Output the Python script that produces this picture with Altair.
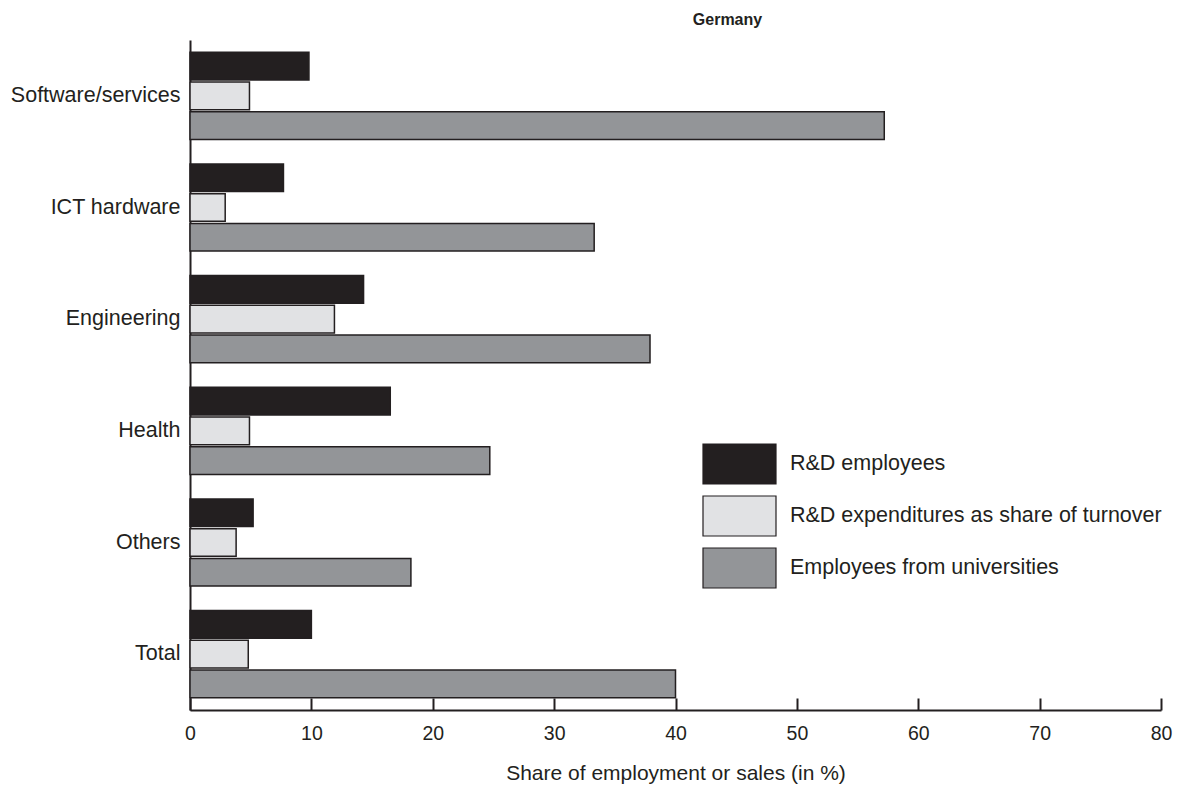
import altair as alt
import pandas as pd

categories = ["Software/services", "ICT hardware", "Engineering", "Health", "Others", "Total"]
series = ["R&D employees", "R&D expenditures as share of turnover", "Employees from universities"]
rd_employees = [9.8, 7.7, 14.3, 16.5, 5.2, 10.0]
rd_expenditures = [4.9, 2.9, 11.9, 4.9, 3.8, 4.8]
univ_employees = [57.2, 33.3, 37.9, 24.7, 18.2, 40.0]
colors = ["#231f20", "#e1e2e4", "#939598"]
x_ticks = [0, 10, 20, 30, 40, 50, 60, 70, 80]

rows = []
for i, c in enumerate(categories):
    for s, vals in zip(series, [rd_employees, rd_expenditures, univ_employees]):
        rows.append({"category": c, "series": s, "value": vals[i]})
df = pd.DataFrame(rows)

W, H = 971, 670
FONT = "Liberation Sans"
INK = "#231f20"

xscale = alt.Scale(domain=[0, 80], nice=False)
yscale = alt.Scale(paddingInner=0.22, paddingOuter=0.11)

bars = alt.Chart(df).mark_bar(stroke=INK, strokeWidth=1.5).encode(
    y=alt.Y("category:N", sort=categories, title=None, scale=yscale,
            axis=alt.Axis(ticks=False, labelFontSize=21.5, labelPadding=10, labelFont=FONT,
                          labelColor=INK, domainWidth=2, domainColor=INK, grid=False,
                          labelLimit=400)),
    yOffset=alt.YOffset("series:N", sort=series, scale=alt.Scale(paddingInner=0.07)),
    x=alt.X("value:Q", scale=xscale,
            axis=alt.Axis(values=x_ticks, ticks=False, grid=False, domainWidth=2, domainColor=INK,
                          labelFontSize=19.5, labelFont=FONT, labelColor=INK, labelPadding=14,
                          labelFlush=False,
                          title="Share of employment or sales (in %)", titleFontSize=21,
                          titleFont=FONT, titleFontWeight="normal", titleColor=INK, titlePadding=20)),
    color=alt.Color("series:N", sort=series, scale=alt.Scale(domain=series, range=colors),
                    legend=alt.Legend(title=None, orient="none", legendX=528.5, legendY=403,
                                      symbolType="M-1.825,-1H1.825V1H-1.825Z", symbolSize=1600,
                                      symbolStrokeColor=INK, symbolStrokeWidth=1.2,
                                      labelFontSize=21.5, labelFont=FONT, labelColor=INK,
                                      labelOffset=29.5, rowPadding=6, labelLimit=500)),
)

ticks = alt.Chart(df).mark_rule(opacity=0).encode(
    x=alt.X("value:Q", scale=xscale,
            axis=alt.Axis(orient="bottom", offset=-12, domain=False, labels=False, ticks=True,
                          tickSize=12, tickWidth=2, tickColor=INK, values=x_ticks,
                          title=None, grid=False)),
)

chart = alt.layer(bars, ticks).resolve_axis(x="independent").properties(
    width=W, height=H,
    title=alt.TitleParams("Germany", fontSize=16, fontWeight="bold", font=FONT, color=INK,
                          anchor="middle", dx=52, offset=12),
    autosize=alt.AutoSizeParams(type="none"),
    padding={"left": 182, "top": 32, "right": 12, "bottom": 82},
).configure_view(strokeWidth=0)

chart.save("out.html", embed_options={"renderer": "svg", "actions": False})
